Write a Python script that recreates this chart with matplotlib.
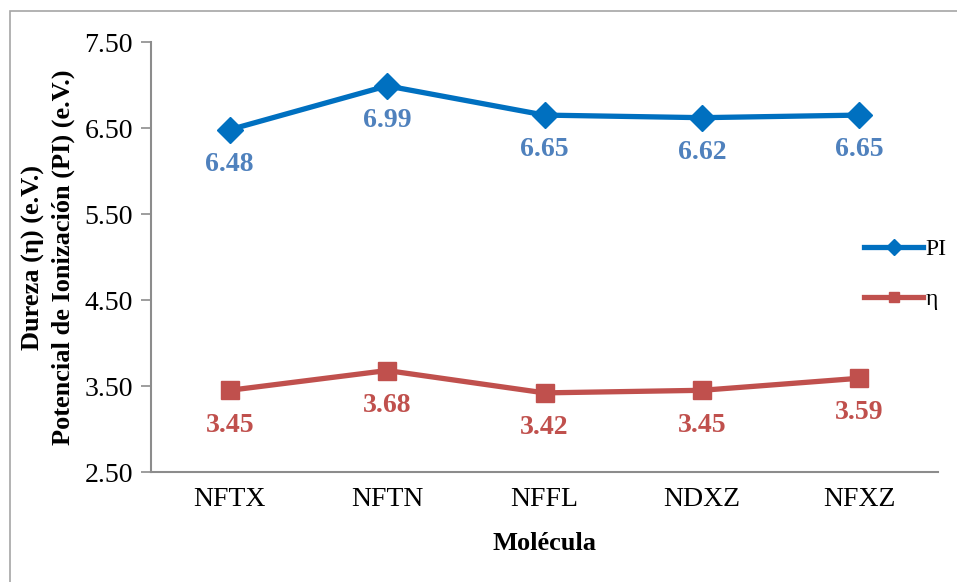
import matplotlib

matplotlib.use("Agg")

import matplotlib.pyplot as plt
from matplotlib.patches import Rectangle

molecules = ["NFTX", "NFTN", "NFFL", "NDXZ", "NFXZ"]
pi_values = [6.48, 6.99, 6.65, 6.62, 6.65]
eta_values = [3.45, 3.68, 3.42, 3.45, 3.59]
y_ticks = [2.50, 3.50, 4.50, 5.50, 6.50, 7.50]

PI_COLOR = "#0070C0"
PI_LABEL = "#4F81BD"
ETA_COLOR = "#C0504D"
AXIS_GRAY = "#8C8C8C"

plt.rcParams["font.family"] = ["Liberation Serif", "DejaVu Serif"]

fig = plt.figure(figsize=(9.57, 5.82), dpi=100)
ax = fig.add_axes([151 / 957, 1 - 472 / 582, (938 - 151) / 957, (472 - 42) / 582])

# outer chart border, Excel style
fig.patches.append(Rectangle((10 / 957, -0.05), 1.1, 1 - 11 / 582 + 0.05,
                             transform=fig.transFigure, fill=False,
                             edgecolor="#A6A6A6", linewidth=1.2))

x = list(range(len(molecules)))
ax.plot(x, pi_values, color=PI_COLOR, linewidth=3.8, marker="D",
        markersize=13, label="PI", zorder=3)
ax.plot(x, eta_values, color=ETA_COLOR, linewidth=3.8, marker="s",
        markersize=13, label="η", zorder=3)

for xi, v in zip(x, pi_values):
    ax.annotate(f"{v:.2f}", (xi, v), textcoords="offset points", xytext=(0, -25),
                ha="center", va="center", fontsize=20, fontweight="bold",
                color=PI_LABEL)
for xi, v in zip(x, eta_values):
    ax.annotate(f"{v:.2f}", (xi, v), textcoords="offset points", xytext=(0, -25),
                ha="center", va="center", fontsize=20, fontweight="bold",
                color=ETA_COLOR)

ax.set_xlim(-0.5, len(molecules) - 0.5)
ax.set_ylim(2.5, 7.5)
ax.set_yticks(y_ticks)
ax.set_yticklabels([f"{t:.2f}" for t in y_ticks])
ax.set_xticks(x)
ax.set_xticklabels(molecules)
ax.tick_params(axis="y", labelsize=20, length=7, width=1.2, color=AXIS_GRAY, pad=6)
ax.tick_params(axis="x", labelsize=20, length=0, pad=11)

for side in ("top", "right"):
    ax.spines[side].set_visible(False)
for side in ("left", "bottom"):
    ax.spines[side].set_color(AXIS_GRAY)
    ax.spines[side].set_linewidth(1.5)

ax.set_xlabel("Molécula", fontsize=19, fontweight="bold", labelpad=14)
fig.text(33 / 957, 1 - 257 / 582, "Dureza (η) (e.V.)", rotation=90,
         ha="center", va="center", fontsize=19, fontweight="bold")
fig.text(63 / 957, 1 - 257 / 582, "Potencial de Ionización (PI) (e.V.)", rotation=90,
         ha="center", va="center", fontsize=19, fontweight="bold")

leg = ax.legend(loc="center left", bbox_to_anchor=(692 / 787, 0.46),
                frameon=False, fontsize=17, handlelength=2.5, handletextpad=0.1,
                labelspacing=1.2, markerscale=0.6)

fig.savefig("out.png", dpi=100)
